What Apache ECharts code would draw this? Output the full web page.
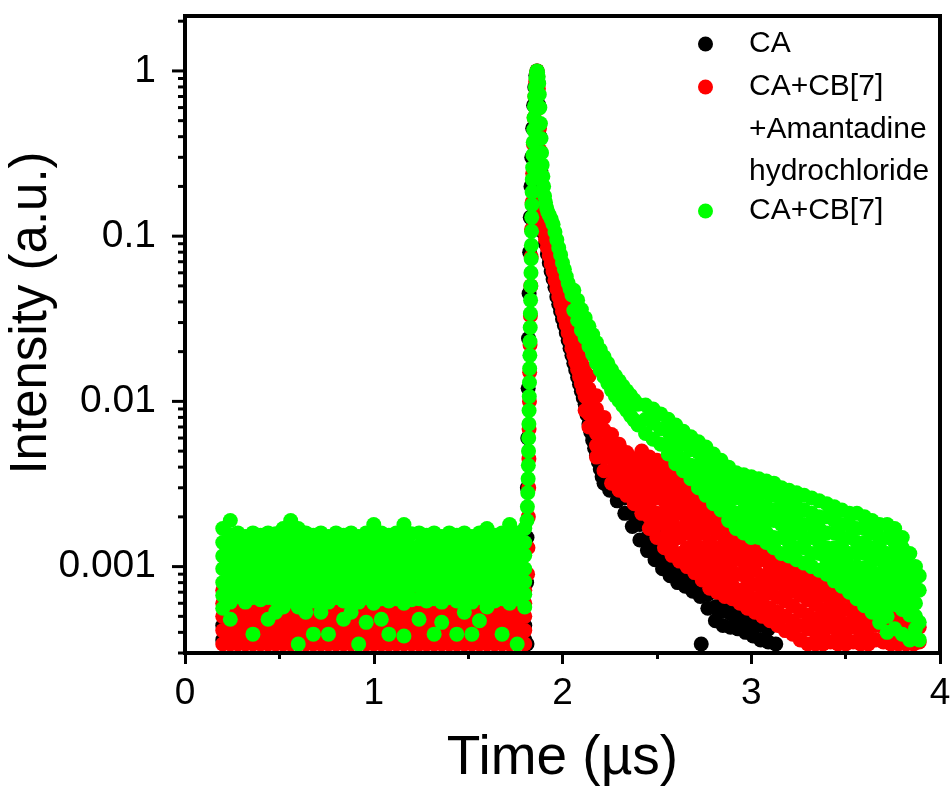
<!DOCTYPE html>
<html>
<head>
<meta charset="utf-8">
<script src="https://cdn.jsdelivr.net/npm/echarts@6/dist/echarts.min.js"></script>
<style>html,body{margin:0;padding:0;background:#fff}#chart{width:952px;height:787px}</style>
</head>
<body>
<div id="chart"></div>
<script>
// ---------- names / labels ----------
const seriesNames = ['CA', 'CA+CB[7]+Amantadine hydrochloride', 'CA+CB[7]'];
const legendLines = ['CA+CB[7]', '+Amantadine', 'hydrochloride'];
const xAxisTitle = 'Time (\u00b5s)';
const yAxisTitle = 'Intensity (a.u.)';
const yMajorTicks = [0.001, 0.01, 0.1, 1];
const yMinorTicks = [0.0003,0.0004,0.0005,0.0006,0.0007,0.0008,0.0009,
  0.002,0.003,0.004,0.005,0.006,0.007,0.008,0.009,
  0.02,0.03,0.04,0.05,0.06,0.07,0.08,0.09,
  0.2,0.3,0.4,0.5,0.6,0.7,0.8,0.9,2];

// Each row: [time (us), intensity readings at that time ...]
// ---------- CA (black) ----------
const caBaseline = [
 [0.20,0.00044,0.00036],[0.28,0.00046,0.00037],[0.36,0.00043,0.00035],[0.44,0.00045,0.00036],
 [0.52,0.00044,0.00037],[0.60,0.00046,0.00035],[0.68,0.00043,0.00036],[0.76,0.00045,0.00037],
 [0.84,0.00044,0.00035],[0.92,0.00046,0.00036],[1.00,0.00043,0.00037],[1.08,0.00045,0.00035],
 [1.16,0.00044,0.00036],[1.24,0.00046,0.00037],[1.32,0.00043,0.00035],[1.40,0.00045,0.00036],
 [1.48,0.00044,0.00037],[1.56,0.00046,0.00035],[1.64,0.00043,0.00036],[1.72,0.00045,0.00037],
 [1.80,0.00044,0.00036],[1.812,0.00034]
];
const caPeak = [
 [1.81,0.0008],[1.812,0.0015],[1.814,0.003],[1.816,0.006],[1.818,0.012],[1.82,0.024],[1.823,0.045],
 [1.826,0.08],[1.829,0.13],[1.833,0.2],[1.837,0.3],[1.842,0.45],[1.847,0.62],[1.853,0.8],[1.859,0.94],
 [1.865,1.0],[1.87,0.86],[1.875,0.62],[1.88,0.4],[1.885,0.25],[1.89,0.165],[1.895,0.125]
];
const caDecay = [
 [1.90,0.105],[1.91,0.09],[1.92,0.078],[1.93,0.069],[1.94,0.061],[1.95,0.055],[1.96,0.049],[1.97,0.043],
 [1.98,0.0387],[1.99,0.035],[2.00,0.0315],[2.01,0.0288],[2.02,0.026],[2.03,0.0234],[2.04,0.021],[2.05,0.019],
 [2.06,0.017],[2.07,0.0155],[2.08,0.014],[2.09,0.0127],[2.10,0.0115],[2.11,0.0105],[2.12,0.0096],[2.13,0.0083],
 [2.14,0.0073],[2.15,0.0065],[2.16,0.0058],[2.17,0.0052],[2.18,0.0047],[2.19,0.0043],[2.20,0.0039],[2.21,0.0035],
 [2.22,0.0032],
 [2.25,0.0029,0.0035],[2.29,0.0025,0.003],[2.33,0.0021,0.0026],[2.37,0.00175,0.0021,0.0026],
 [2.41,0.00145,0.0018,0.0022],[2.45,0.00125,0.0015,0.0019],[2.49,0.0011,0.0013,0.0016],
 [2.53,0.00097,0.00118,0.0014],[2.57,0.00088,0.00106,0.0013],[2.61,0.0008,0.00097,0.00118],
 [2.65,0.00076,0.00092,0.0011],[2.69,0.00071,0.00086,0.00105],[2.73,0.00066,0.0008,0.00097],
 [2.735,0.00034],[2.77,0.00056,0.00068,0.00083],[2.81,0.00047,0.00057,0.0007],[2.85,0.00044,0.00054,0.00066],
 [2.89,0.00043,0.00052,0.00063],[2.93,0.00042,0.0005,0.0006],[2.97,0.0004,0.00048,0.00058],
 [3.01,0.00038,0.00046,0.00055],[3.05,0.00036,0.00044],[3.09,0.00035,0.00042],[3.13,0.00034]
];

// ---------- CA+CB[7]+Amantadine hydrochloride (red) ----------
const amaBaseline = [
 [0.20,0.00072,0.0006,0.0005,0.00041,0.00034],[0.24,0.00066,0.00055,0.00045,0.00037,0.00034],
 [0.28,0.00072,0.0006,0.0005,0.00041,0.00034],[0.32,0.00066,0.00055,0.00045,0.00037,0.00034],
 [0.36,0.00072,0.0006,0.0005,0.00041,0.00034],[0.40,0.00066,0.00055,0.00045,0.00037,0.00034],
 [0.44,0.00072,0.0006,0.0005,0.00041,0.00034],[0.48,0.00066,0.00055,0.00045,0.00037,0.00034],
 [0.52,0.00072,0.0006,0.0005,0.00041,0.00034],[0.56,0.00066,0.00055,0.00045,0.00037,0.00034],
 [0.60,0.00072,0.0006,0.0005,0.00041,0.00034],[0.64,0.00066,0.00055,0.00045,0.00037,0.00034],
 [0.68,0.00072,0.0006,0.0005,0.00041,0.00034],[0.72,0.00066,0.00055,0.00045,0.00037,0.00034],
 [0.76,0.00072,0.0006,0.0005,0.00041,0.00034],[0.80,0.00066,0.00055,0.00045,0.00037,0.00034],
 [0.84,0.00072,0.0006,0.0005,0.00041,0.00034],[0.88,0.00066,0.00055,0.00045,0.00037,0.00034],
 [0.92,0.00072,0.0006,0.0005,0.00041,0.00034],[0.96,0.00066,0.00055,0.00045,0.00037,0.00034],
 [1.00,0.00072,0.0006,0.0005,0.00041,0.00034],[1.04,0.00066,0.00055,0.00045,0.00037,0.00034],
 [1.08,0.00072,0.0006,0.0005,0.00041,0.00034],[1.12,0.00066,0.00055,0.00045,0.00037,0.00034],
 [1.16,0.00072,0.0006,0.0005,0.00041,0.00034],[1.20,0.00066,0.00055,0.00045,0.00037,0.00034],
 [1.24,0.00072,0.0006,0.0005,0.00041,0.00034],[1.28,0.00066,0.00055,0.00045,0.00037,0.00034],
 [1.32,0.00072,0.0006,0.0005,0.00041,0.00034],[1.36,0.00066,0.00055,0.00045,0.00037,0.00034],
 [1.40,0.00072,0.0006,0.0005,0.00041,0.00034],[1.44,0.00066,0.00055,0.00045,0.00037,0.00034],
 [1.48,0.00072,0.0006,0.0005,0.00041,0.00034],[1.52,0.00066,0.00055,0.00045,0.00037,0.00034],
 [1.56,0.00072,0.0006,0.0005,0.00041,0.00034],[1.60,0.00066,0.00055,0.00045,0.00037,0.00034],
 [1.64,0.00072,0.0006,0.0005,0.00041,0.00034],[1.68,0.00066,0.00055,0.00045,0.00037,0.00034],
 [1.72,0.00072,0.0006,0.0005,0.00041,0.00034],[1.76,0.00066,0.00055,0.00045,0.00037,0.00034],
 [1.80,0.00072,0.0006,0.0005,0.00041,0.00034]
];
const amaPeak = [
 [1.815,0.0009],[1.817,0.0013],[1.819,0.002],[1.821,0.003],[1.822,0.0045],[1.823,0.0068],[1.825,0.01],
 [1.826,0.015],[1.828,0.022],[1.83,0.033],[1.832,0.05],[1.834,0.075],[1.836,0.11],[1.839,0.16],[1.842,0.24],
 [1.846,0.36],[1.85,0.52],[1.854,0.7],[1.858,0.86],[1.862,0.96],[1.865,1.0],[1.869,0.93],[1.872,0.78],
 [1.875,0.6],[1.878,0.45],[1.881,0.33],[1.884,0.24],[1.887,0.18],[1.89,0.14]
];
const amaDecay = [
 [1.895,0.12],[1.90,0.108],[1.91,0.096],[1.92,0.085],[1.93,0.076],[1.94,0.068],[1.95,0.061],[1.96,0.054],
 [1.97,0.048],[1.98,0.043],[1.99,0.039],[2.00,0.035],[2.01,0.032,0.038],[2.02,0.029,0.034],[2.03,0.026,0.031],
 [2.04,0.0235,0.028],[2.05,0.021,0.026],[2.06,0.019,0.0235],[2.07,0.0172,0.0215],[2.08,0.0156,0.0198],
 [2.09,0.0141,0.0185],[2.10,0.0128,0.0172],[2.11,0.0117,0.016],[2.12,0.0107,0.015,0.0088],
 [2.14,0.0142,0.0119,0.01,0.0084,0.007],
 [2.18,0.0108,0.009,0.0076,0.0064,0.0054,0.0046],
 [2.22,0.008,0.0067,0.0055,0.0046,0.0038],
 [2.26,0.0063,0.0054,0.0045,0.0038,0.0032],
 [2.30,0.0055,0.0047,0.004,0.0034,0.0029],
 [2.34,0.0049,0.0042,0.0036,0.0031,0.0027],
 [2.38,0.0045,0.0039,0.0033,0.0029,0.0024],
 [2.42,0.005,0.0042,0.0035,0.003,0.0025,0.0021],
 [2.46,0.0046,0.0039,0.0033,0.0028,0.0024,0.002,0.0017],
 [2.50,0.0044,0.0037,0.0031,0.0026,0.0021,0.0018,0.0015],
 [2.54,0.0042,0.0035,0.003,0.0025,0.0021,0.0018,0.0015,0.0013],
 [2.58,0.0039,0.0033,0.0028,0.0023,0.0019,0.0016,0.0014,0.00117],
 [2.62,0.0035,0.0029,0.0025,0.0021,0.0017,0.0015,0.0012,0.00108],
 [2.66,0.0032,0.0027,0.0023,0.0019,0.0016,0.0013,0.0011,0.001],
 [2.70,0.0029,0.0024,0.002,0.0017,0.0014,0.0012,0.001,0.00092],
 [2.74,0.0026,0.0022,0.0019,0.0016,0.0013,0.0011,0.00095,0.00083],
 [2.78,0.0024,0.002,0.0017,0.0014,0.0012,0.001,0.00087,0.00074],
 [2.82,0.0022,0.0019,0.0016,0.0013,0.0011,0.00095,0.0008,0.0007],
 [2.86,0.002,0.0017,0.0014,0.0012,0.001,0.00088,0.00076,0.00066],
 [2.90,0.0018,0.00156,0.0013,0.0011,0.00093,0.00077,0.00064],
 [2.94,0.0015,0.0013,0.0011,0.0009,0.00072,0.0006],
 [2.98,0.0014,0.0012,0.001,0.00083,0.00068,0.00056],
 [3.02,0.0013,0.0011,0.00095,0.00078,0.00064,0.00053],
 [3.06,0.0013,0.0011,0.00088,0.00073,0.0006,0.0005],
 [3.10,0.0012,0.001,0.00084,0.00069,0.00056,0.00047],
 [3.14,0.00115,0.00095,0.00079,0.00065,0.00053,0.00044],
 [3.18,0.0011,0.0009,0.00075,0.00062,0.0005,0.00041],
 [3.22,0.001,0.00086,0.00071,0.00058,0.00047,0.00039],
 [3.26,0.00098,0.00081,0.00067,0.00054,0.00044,0.00036],
 [3.30,0.00092,0.00076,0.00063,0.00051,0.00042,0.00034],
 [3.34,0.00086,0.00071,0.00059,0.00048,0.0004,0.00034],
 [3.38,0.00081,0.00067,0.00055,0.00046,0.00038,0.00034],
 [3.42,0.00076,0.00063,0.00052,0.00043,0.00035],
 [3.46,0.00071,0.00059,0.00049,0.0004,0.00034],
 [3.50,0.00067,0.00055,0.00045,0.00037,0.00034],
 [3.54,0.00063,0.00052,0.00043,0.00035],
 [3.58,0.00059,0.00049,0.0004,0.00034],
 [3.62,0.00056,0.00046,0.00038,0.00034],
 [3.66,0.00053,0.00044,0.00036],
 [3.70,0.00051,0.00043,0.00035],
 [3.74,0.00049,0.00041,0.00034],
 [3.78,0.00047,0.00039,0.00034],
 [3.82,0.00046,0.00038,0.00034],
 [3.86,0.00044,0.00037,0.00034],
 [3.89,0.00043,0.00035]
];

// ---------- CA+CB[7] (green) ----------
const cb7Baseline = [
 [0.20,0.0017,0.0014,0.00116,0.00097,0.0008,0.00067,0.00056],
 [0.24,0.0019,0.00155,0.00128,0.00106,0.00088,0.00073,0.00061,0.00048],
 [0.28,0.0016,0.00134,0.00112,0.00094,0.00079,0.00066],
 [0.32,0.00152,0.00126,0.00105,0.00087,0.00073,0.00061],
 [0.36,0.0016,0.00133,0.00111,0.00093,0.00078,0.00065,0.00039],
 [0.40,0.00155,0.00129,0.00107,0.0009,0.00075,0.00063],
 [0.44,0.0016,0.00134,0.00112,0.00094,0.00078,0.00065,0.00048],
 [0.48,0.00158,0.00131,0.00109,0.00091,0.00076,0.00063,0.00053],
 [0.52,0.0017,0.0014,0.00117,0.00097,0.00081,0.00068,0.00057],
 [0.56,0.0019,0.00156,0.0013,0.00108,0.0009,0.00075,0.00062],
 [0.60,0.0017,0.00141,0.00117,0.00098,0.00082,0.00068,0.00057,0.00034],
 [0.64,0.0016,0.00133,0.00111,0.00092,0.00077,0.00064,0.00053],
 [0.68,0.00155,0.00129,0.00107,0.00089,0.00074,0.00062,0.00039],
 [0.72,0.0016,0.00133,0.00111,0.00093,0.00077,0.00064,0.00053],
 [0.76,0.00152,0.00127,0.00106,0.00088,0.00073,0.00061,0.00039],
 [0.80,0.0016,0.00134,0.00112,0.00093,0.00078,0.00065],
 [0.84,0.00155,0.00129,0.00107,0.00089,0.00074,0.00062,0.00048],
 [0.88,0.0016,0.00133,0.00111,0.00093,0.00077,0.00064,0.00053],
 [0.92,0.00152,0.00127,0.00106,0.00088,0.00073,0.00061,0.00034],
 [0.96,0.0016,0.00134,0.00112,0.00093,0.00078,0.00065,0.00046],
 [1.00,0.0018,0.0015,0.00125,0.00104,0.00087,0.00072,0.0006],
 [1.04,0.0016,0.00133,0.00111,0.00092,0.00077,0.00064,0.00048],
 [1.08,0.00155,0.00129,0.00107,0.00089,0.00074,0.00062,0.00039],
 [1.12,0.0016,0.00133,0.00111,0.00093,0.00077,0.00064],
 [1.16,0.0018,0.0015,0.00125,0.00104,0.00087,0.00072,0.0006,0.00038],
 [1.20,0.00158,0.00131,0.00109,0.00091,0.00076,0.00063],
 [1.24,0.0016,0.00133,0.00111,0.00093,0.00077,0.00064,0.00048],
 [1.28,0.00155,0.00129,0.00107,0.00089,0.00074,0.00062],
 [1.32,0.0016,0.00133,0.00111,0.00093,0.00077,0.00064,0.00039],
 [1.36,0.00152,0.00127,0.00106,0.00088,0.00073,0.00061,0.00046],
 [1.40,0.0016,0.00134,0.00112,0.00093,0.00078,0.00065],
 [1.44,0.00155,0.00129,0.00107,0.00089,0.00074,0.00062,0.00039],
 [1.48,0.0016,0.00133,0.00111,0.00093,0.00077,0.00064,0.00053],
 [1.52,0.00152,0.00127,0.00106,0.00088,0.00073,0.00061,0.00039],
 [1.56,0.0016,0.00134,0.00112,0.00093,0.00078,0.00065,0.00047],
 [1.60,0.0017,0.0014,0.00117,0.00097,0.00081,0.00068,0.00057],
 [1.64,0.00155,0.00129,0.00107,0.00089,0.00074,0.00062],
 [1.68,0.0016,0.00133,0.00111,0.00093,0.00077,0.00064,0.00039],
 [1.72,0.0018,0.0015,0.00125,0.00104,0.00087,0.00072,0.0006],
 [1.76,0.0016,0.00133,0.00111,0.00093,0.00077,0.00064,0.00034],
 [1.80,0.0017,0.0014,0.00117,0.00097,0.00081,0.00068,0.00057]
];
const cb7Peak = [
 [1.812,0.0019],[1.814,0.0023],[1.816,0.0028],[1.818,0.0034],[1.819,0.0041],[1.82,0.005],[1.821,0.006],
 [1.822,0.0073],[1.823,0.0088],[1.824,0.0107],[1.825,0.013],[1.826,0.0158],[1.827,0.019],[1.828,0.023],
 [1.829,0.028],[1.83,0.034],[1.831,0.041],[1.832,0.05],[1.833,0.06],[1.834,0.073],[1.835,0.088],
 [1.836,0.107],[1.837,0.13],[1.838,0.155],[1.839,0.185],[1.84,0.22],[1.842,0.26],[1.843,0.31],
 [1.845,0.37],[1.847,0.44],[1.849,0.52],[1.851,0.61],[1.853,0.7],[1.856,0.8],[1.859,0.9],[1.862,0.97],
 [1.865,1.0],[1.868,0.98],[1.871,0.92],[1.874,0.84],[1.877,0.72],[1.88,0.6],[1.883,0.48],[1.886,0.39],
 [1.889,0.32],[1.892,0.27],[1.896,0.23],[1.90,0.2],[1.905,0.175],[1.91,0.16],[1.916,0.148],[1.922,0.14]
];
const cb7Decay = [
 [1.93,0.134],[1.94,0.127],[1.95,0.118],[1.96,0.106],[1.97,0.095],[1.98,0.085],[1.99,0.077],[2.00,0.069],
 [2.01,0.063],[2.02,0.057],[2.03,0.052],[2.04,0.048],[2.05,0.044],
 [2.06,0.047,0.0355],[2.08,0.041,0.031],[2.10,0.036,0.027],[2.12,0.032,0.0243],[2.14,0.0285,0.0216],
 [2.16,0.0254,0.0192],[2.18,0.0227,0.0171],[2.20,0.0205,0.0155],[2.22,0.0186,0.0141],[2.24,0.017,0.0129],
 [2.26,0.0155,0.0117],[2.28,0.0143,0.0108],[2.30,0.0133,0.0101],[2.32,0.0124,0.0094],[2.34,0.0116,0.0088],
 [2.36,0.0109,0.0082],[2.38,0.0102,0.0077],[2.40,0.0096,0.0072],
 [2.44,0.0095,0.0078,0.0064],
 [2.48,0.009,0.0074,0.0059],
 [2.52,0.0084,0.0068,0.0055],
 [2.56,0.0078,0.0066,0.0056,0.0048],
 [2.60,0.0072,0.006,0.005,0.0042],
 [2.64,0.0066,0.0055,0.0045,0.0038],
 [2.68,0.0061,0.0051,0.0041,0.0034],
 [2.72,0.0057,0.0049,0.0041,0.0035,0.003],
 [2.76,0.0053,0.0045,0.0038,0.0032,0.0027],
 [2.80,0.0048,0.0041,0.0034,0.0029,0.0024],
 [2.84,0.0044,0.0037,0.0031,0.0026,0.0022],
 [2.88,0.004,0.0033,0.0028,0.0023,0.0019],
 [2.92,0.0037,0.0031,0.0026,0.0021,0.0017],
 [2.96,0.0036,0.0031,0.0026,0.0022,0.0019,0.0016],
 [3.00,0.0035,0.003,0.0025,0.0021,0.0018,0.0015],
 [3.04,0.0034,0.0029,0.0024,0.002,0.0017,0.0015],
 [3.08,0.0033,0.0028,0.0023,0.0019,0.0016,0.0014],
 [3.12,0.0032,0.0027,0.0022,0.0019,0.0015,0.0013],
 [3.16,0.003,0.0025,0.0021,0.0018,0.0015,0.0012],
 [3.20,0.0029,0.0024,0.002,0.0017,0.0014,0.00116],
 [3.24,0.0028,0.0023,0.0019,0.0016,0.0013,0.0011],
 [3.28,0.0027,0.0022,0.0018,0.0015,0.0013,0.00105],
 [3.32,0.0026,0.0021,0.0018,0.0015,0.0012,0.001],
 [3.36,0.0025,0.002,0.0017,0.0014,0.0012,0.00095],
 [3.40,0.0024,0.002,0.0016,0.0013,0.0011,0.0009],
 [3.44,0.0023,0.0019,0.0016,0.0013,0.0011,0.00095,0.00082],
 [3.48,0.0022,0.0018,0.0015,0.0013,0.0011,0.0009,0.00076],
 [3.52,0.0021,0.0018,0.0015,0.0012,0.001,0.00085,0.0007],
 [3.56,0.0021,0.0017,0.0014,0.0012,0.001,0.00085,0.00073,0.00064],
 [3.60,0.002,0.0017,0.0014,0.0012,0.00098,0.00082,0.0007,0.00058],
 [3.64,0.0019,0.0016,0.0013,0.0011,0.00093,0.00077,0.00064,0.00053],
 [3.68,0.0018,0.0015,0.0013,0.0011,0.0009,0.00075,0.00063,0.00054,0.00046],
 [3.72,0.0018,0.0015,0.0012,0.001,0.00086,0.00072,0.0006,0.0005,0.0004],
 [3.76,0.0017,0.0014,0.0012,0.001,0.00083,0.0007,0.00059,0.00042],
 [3.80,0.0015,0.0013,0.0011,0.00091,0.00077,0.00065,0.00055,0.00039],
 [3.84,0.0012,0.001,0.00087,0.00073,0.00061,0.00051,0.00036],
 [3.87,0.001,0.00085,0.00071,0.0006,0.0005,0.00042],
 [3.89,0.00088,0.00072,0.00046,0.00036]
];

// ---------- build point lists from the rows ----------
function toPoints() {
  const out = [];
  for (const rows of arguments) {
    for (const row of rows) {
      for (let i = 1; i < row.length; i++) out.push([row[0], row[i]]);
    }
  }
  return out;
}

const FONT = '"Liberation Sans", Arial, Helvetica, sans-serif';
const chart = echarts.init(document.getElementById('chart'), null, {renderer: 'canvas'});

function tickRenderer(len) {
  return function (params, api) {
    const p = api.coord([api.value(0), api.value(1)]);
    return {
      type: 'line',
      shape: {x1: p[0] - len, y1: p[1], x2: p[0], y2: p[1]},
      style: {stroke: '#000', lineWidth: 3}
    };
  };
}

const legendText = {
  color: '#000',
  fontFamily: FONT,
  fontSize: 30,
  lineHeight: 42,
  rich: { t: { padding: [0, 0, 0, 31], fontSize: 30, lineHeight: 42, fontFamily: FONT, color: '#000' } }
};
function legendFormatter(name) {
  return '{t|' + (name === seriesNames[1] ? legendLines[0] : name) + '}';
}
const legendCommon = {
  orient: 'vertical', left: 698, padding: 0, itemGap: 1, itemWidth: 15, itemHeight: 15,
  icon: 'circle', selectedMode: false, formatter: legendFormatter, textStyle: legendText,
  itemStyle: {opacity: 1, borderWidth: 0}
};

const option = {
  animation: false,
  backgroundColor: '#fff',
  grid: {left: 185, right: 12, top: 16, bottom: 134, show: true, borderColor: '#000', borderWidth: 4, z: 10,
         containLabel: false, outerBoundsMode: 'none'},
  xAxis: {
    type: 'value', min: 0, max: 4, interval: 1, z: 10,
    axisLine: {show: true, onZero: false, lineStyle: {color: '#000', width: 4}},
    axisTick: {show: true, length: 11, lineStyle: {color: '#000', width: 3}},
    minorTick: {show: true, splitNumber: 2, length: 6, lineStyle: {color: '#000', width: 3}},
    splitLine: {show: false}, minorSplitLine: {show: false},
    axisLabel: {color: '#000', fontSize: 37, fontFamily: FONT, margin: 22},
    name: xAxisTitle, nameLocation: 'middle', nameGap: 78,
    nameTextStyle: {color: '#000', fontSize: 55, fontFamily: FONT}
  },
  yAxis: {
    type: 'log', logBase: 10, min: 0.0003, max: 2.15, z: 10,
    axisLine: {show: true, lineStyle: {color: '#000', width: 4}},
    axisTick: {show: false},
    splitLine: {show: false},
    axisLabel: {color: '#000', fontSize: 39, fontFamily: FONT, margin: 29, showMinLabel: false, showMaxLabel: false}
  },
  legend: [
    Object.assign({data: [seriesNames[0], seriesNames[1]], top: 23}, legendCommon),
    Object.assign({data: [seriesNames[2]], top: 190}, legendCommon)
  ],
  graphic: [
    {type: 'text', x: 32, y: 313, rotation: Math.PI / 2,
     style: {text: yAxisTitle, fill: '#000', font: '51px ' + FONT, align: 'center', verticalAlign: 'middle'}},
    {type: 'text', x: 749, y: 130, style: {text: legendLines[1], fill: '#000', font: '30px ' + FONT, verticalAlign: 'middle', align: 'left'}},
    {type: 'text', x: 749, y: 172, style: {text: legendLines[2], fill: '#000', font: '30px ' + FONT, verticalAlign: 'middle', align: 'left'}}
  ],
  series: [
    {name: seriesNames[0], type: 'scatter', symbol: 'circle', symbolSize: 15,
     itemStyle: {color: '#000000', opacity: 1}, data: toPoints(caBaseline, caPeak, caDecay), silent: true},
    {name: seriesNames[1], type: 'scatter', symbol: 'circle', symbolSize: 15,
     itemStyle: {color: '#ff0000', opacity: 1}, data: toPoints(amaBaseline, amaPeak, amaDecay), silent: true},
    {name: seriesNames[2], type: 'scatter', symbol: 'circle', symbolSize: 15,
     itemStyle: {color: '#00ff00', opacity: 1}, data: toPoints(cb7Baseline, cb7Peak, cb7Decay), silent: true},
    {name: 'yMajorTicks', type: 'custom', data: yMajorTicks.map(v => [0, v]), renderItem: tickRenderer(13), silent: true, z: 11, clip: false},
    {name: 'yMinorTicks', type: 'custom', data: yMinorTicks.map(v => [0, v]), renderItem: tickRenderer(7), silent: true, z: 11, clip: false}
  ]
};
chart.setOption(option);
</script>
</body>
</html>
